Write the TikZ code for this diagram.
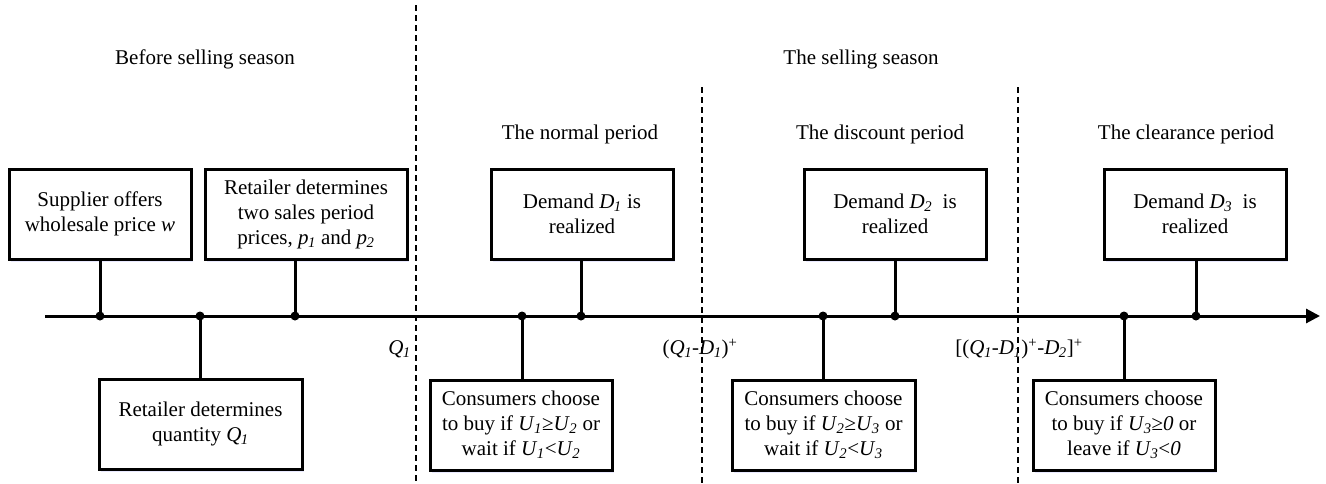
\documentclass[tikz,border=0pt]{standalone}
\usepackage{fontspec}
\setmainfont{Liberation Serif}
\usetikzlibrary{arrows.meta,shadows}
\newcommand\vs[2]{\textit{#1}\textsubscript{\kern-0.5pt\textit{#2}}}
\tikzset{
  txt/.style={font=\fontsize{21}{25}\selectfont, inner sep=0pt},
  evbox/.style={draw, line width=3, fill=white, font=\fontsize{21}{25}\selectfont, align=center,
     minimum height=90, inner sep=0pt,
     drop shadow={shadow xshift=2pt, shadow yshift=-3pt, fill=blue!25!white, opacity=0.35}},
  stem/.style={line width=3},
  sep/.style={line width=1.5, dash pattern=on 6pt off 4pt},
  dot/.style={fill=black}
}
\begin{document}
\begin{tikzpicture}[x=1pt,y=-1pt]
\useasboundingbox (0,0) rectangle (1326,483);
% separators
\draw[sep] (416,5) -- (416,483);
\draw[sep] (702,87) -- (702,483);
\draw[sep] (1018,87) -- (1018,483);
% headings
\node[txt] (h1) at (205,59) {Before selling season};
\node[txt] (h2) at (861,59) {The selling season};
\node[txt] (p1) at (580,134) {The normal period};
\node[txt] (p2) at (880,134) {The discount period};
\node[txt] (p3) at (1186,134) {The clearance period};
% timeline
\coordinate (t0) at (45,316);
\coordinate (t1) at (1320,316);
% dots on timeline
\coordinate (d1) at (100,316);
\coordinate (d2) at (200,316);
\coordinate (d3) at (295,316);
\coordinate (d4) at (522,316);
\coordinate (d5) at (581,316);
\coordinate (d6) at (823,316);
\coordinate (d7) at (895,316);
\coordinate (d8) at (1124,316);
\coordinate (d9) at (1196,316);
% boxes above
\node[evbox, minimum width=182] (b1) at (100,214) {Supplier offers\\wholesale price \textit{w}};
\node[evbox, minimum width=202] (b2) at (306,214) {Retailer determines\\two sales period\\prices, \vs{p}{1} and \vs{p}{2}};
\node[evbox, minimum width=182] (b5) at (582,214) {Demand \vs{D}{1} is\\realized};
\node[evbox, minimum width=182] (b7) at (895,214) {Demand \vs{D}{2}\ \ is\\realized};
\node[evbox, minimum width=182] (b9) at (1195,214) {Demand \vs{D}{3}\ \ is\\realized};
% boxes below
\node[evbox, minimum width=203] (b2q) at (200.5,424) {Retailer determines\\quantity \vs{Q}{1}};
\node[evbox, minimum width=182] (b4) at (521,425) {Consumers choose\\to buy if \vs{U}{1}≥\vs{U}{2} or\\wait if \vs{U}{1}<\vs{U}{2}};
\node[evbox, minimum width=183] (b6) at (823.5,425) {Consumers choose\\to buy if \vs{U}{2}≥\vs{U}{3} or\\wait if \vs{U}{2}<\vs{U}{3}};
\node[evbox, minimum width=182] (b8) at (1124,425) {Consumers choose\\to buy if \vs{U}{3}≥\textit{0} or\\leave if \vs{U}{3}<\textit{0}};
% stems
\draw[stem] (d1) -- (d1 |- b1.south);
\draw[stem] (d3) -- (d3 |- b2.south);
\draw[stem] (d5) -- (d5 |- b5.south);
\draw[stem] (d7) -- (d7 |- b7.south);
\draw[stem] (d9) -- (d9 |- b9.south);
\draw[stem] (d2) -- (d2 |- b2q.north);
\draw[stem] (d4) -- (d4 |- b4.north);
\draw[stem] (d6) -- (d6 |- b6.north);
\draw[stem] (d8) -- (d8 |- b8.north);
\draw[line width=3, -{Triangle[length=14pt,width=14pt]}] (t0) -- (t1);
\foreach \d in {d1,d2,d3,d4,d5,d6,d7,d8,d9} \fill[dot] (\d) circle (4.5);
% inventory labels
\node[txt, anchor=east] (q1) at (411,349) {\vs{Q}{1}};
\node[txt] (q2) at (700,349) {(\vs{Q}{1}-\vs{D}{1})\textsuperscript{+}};
\node[txt] (q3) at (1019,349) {[(\vs{Q}{1}-\vs{D}{1})\textsuperscript{+}-\vs{D}{2}]\textsuperscript{+}};
\end{tikzpicture}
\end{document}
